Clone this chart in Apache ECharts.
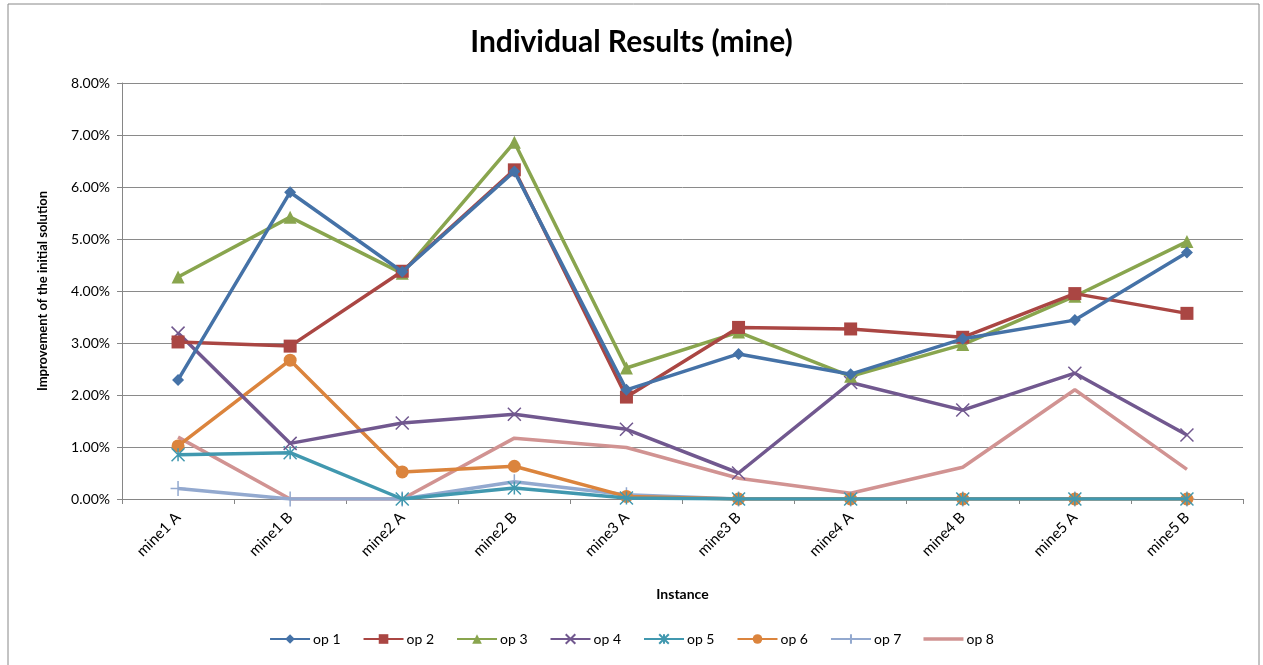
<!DOCTYPE html>
<html><head><meta charset="utf-8">
<script src="https://cdn.jsdelivr.net/npm/echarts@6/dist/echarts.min.js"></script>
<style>html,body{margin:0;padding:0;background:#fff}#c{width:1263px;height:665px}</style>
</head><body><div id="c"></div>
<script>
const categories = ['mine1 A','mine1 B','mine2 A','mine2 B','mine3 A','mine3 B','mine4 A','mine4 B','mine5 A','mine5 B'];
const op1 = [2.29, 5.90, 4.37, 6.30, 2.10, 2.79, 2.40, 3.08, 3.44, 4.74];
const op2 = [3.02, 2.94, 4.38, 6.33, 1.96, 3.30, 3.27, 3.11, 3.95, 3.57];
const op3 = [4.27, 5.42, 4.34, 6.86, 2.52, 3.21, 2.36, 2.97, 3.90, 4.95];
const op4 = [3.19, 1.07, 1.46, 1.63, 1.34, 0.50, 2.24, 1.71, 2.42, 1.23];
const op5 = [0.85, 0.89, 0.00, 0.21, 0.02, 0.00, 0.00, 0.00, 0.00, 0.00];
const op6 = [1.02, 2.67, 0.52, 0.63, 0.05, 0.00, 0.00, 0.00, 0.00, 0.00];
const op7 = [0.20, 0.00, 0.00, 0.33, 0.08, 0.00, 0.00, 0.00, 0.00, 0.00];
const op8 = [1.19, 0.00, 0.00, 1.17, 0.99, 0.40, 0.11, 0.61, 2.10, 0.57];
const yTicks = ['0.00%','1.00%','2.00%','3.00%','4.00%','5.00%','6.00%','7.00%','8.00%'];
const seriesNames = ['op 1','op 2','op 3','op 4','op 5','op 6','op 7','op 8'];

const colors = ['#4572A7','#AA4643','#89A54E','#71588F','#4198AF','#DB843D','#93A9CF','#D19392'];
const symX = 'path://M0,0L10,10M10,0L0,10';
const symAst = 'path://M0,0L10,10M10,0L0,10M5,0L5,10';
const symPlus = 'path://M5,0L5,10M0,5L10,5';
const symbols = ['diamond','rect','triangle',symX,symAst,'circle',symPlus,'none'];
const sizes = [12,13,13,13,13,13,15,0];
const data = [op1,op2,op3,op4,op5,op6,op7,op8];

const ff = 'Lato, "Open Sans", sans-serif';
const chart = echarts.init(document.getElementById('c'));
chart.setOption({
  animation:false,
  color: colors,
  title:{text:'Individual Results (mine)',left:'center',top:22,textStyle:{fontFamily:ff,fontSize:30,fontWeight:'bold',color:'#000'}},
  graphic:[{type:'rect',shape:{x:8,y:4,width:1251,height:670},style:{fill:'none',stroke:'#888',lineWidth:1},silent:true}],
  grid:{left:122,right:20,top:83,bottom:166},
  legend:{bottom:14,left:'center',itemWidth:40,itemHeight:12,itemGap:22,
    textStyle:{fontFamily:ff,fontSize:14,color:'#000',padding:[0,0,0,-2]},
    data: seriesNames.map((n,i)=> i===7 ? {name:n, icon:'path://M0,0L40,0L40,3.5L0,3.5Z'} : {name:n})},
  xAxis:{type:'category',data:categories,boundaryGap:true,
    name:'Instance',nameLocation:'middle',nameGap:88,
    nameTextStyle:{fontFamily:ff,fontSize:14,fontWeight:'bold',color:'#000'},
    axisLine:{lineStyle:{color:'#868686'}},
    axisTick:{show:true,length:5,lineStyle:{color:'#868686'}},
    axisLabel:{rotate:45,fontFamily:ff,fontSize:15,color:'#000',margin:16}},
  yAxis:{type:'value',min:0,max:8,interval:1,
    name:'Improvement of the initial solution',nameLocation:'middle',nameGap:73,nameRotate:90,
    nameTextStyle:{fontFamily:ff,fontSize:13,fontWeight:'bold',color:'#000'},
    axisLine:{show:true,lineStyle:{color:'#868686'}},
    axisTick:{show:true,length:5,inside:false,lineStyle:{color:'#868686'}},
    splitLine:{lineStyle:{color:'#8a8a8a',width:1}},
    axisLabel:{fontFamily:ff,fontSize:14,color:'#000',margin:12,formatter:(v)=>yTicks[Math.round(v)]}},
  series: data.map((d,i)=>({
    name:seriesNames[i],type:'line',data:d,symbol:symbols[i],symbolSize:sizes[i],
    showSymbol:symbols[i]!=='none',
    lineStyle:{width:3.5,color:colors[i]},
    itemStyle:{color:colors[i],borderColor:colors[i],borderWidth:(i===3||i===4||i===6)?1.5:0},
    z: 10-i
  }))
});
</script></body></html>
